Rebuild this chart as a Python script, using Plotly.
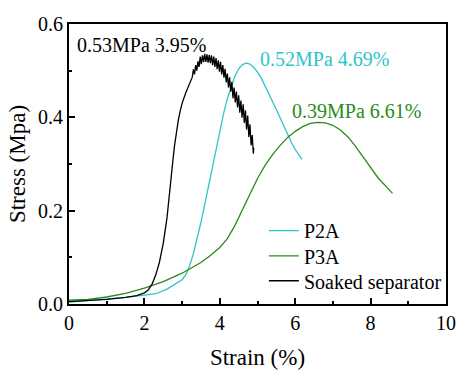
import plotly.graph_objects as go

# ---- data ----
soaked_x = [0, 0.5, 1.0, 1.5, 1.8, 2.0, 2.1, 2.2, 2.3, 2.4, 2.5, 2.6, 2.65, 2.7, 2.75, 2.8, 2.85, 2.9, 2.95, 3.0, 3.1, 3.2, 3.27,
            3.30, 3.33, 3.36, 3.39, 3.42, 3.45, 3.48, 3.51, 3.54, 3.57, 3.60, 3.63, 3.66, 3.69, 3.72, 3.75,
            3.78, 3.81, 3.84, 3.87, 3.90, 3.93, 3.96, 3.99, 4.02, 4.05, 4.08, 4.11, 4.14, 4.17, 4.20, 4.23,
            4.26, 4.29, 4.32, 4.35, 4.38, 4.41, 4.44, 4.47, 4.50, 4.53, 4.56, 4.59, 4.62, 4.65, 4.68, 4.71,
            4.74, 4.77, 4.80, 4.83, 4.86, 4.89, 4.90]
soaked_y = [0.005, 0.007, 0.010, 0.014, 0.018, 0.024, 0.030, 0.042, 0.062, 0.090, 0.130, 0.185, 0.220, 0.262, 0.303, 0.340, 0.370, 0.394, 0.414, 0.430, 0.453, 0.473, 0.486,
            0.503, 0.492, 0.512, 0.500, 0.520, 0.508, 0.530, 0.514, 0.533, 0.518, 0.536, 0.519, 0.535, 0.517, 0.534, 0.516,
            0.533, 0.512, 0.530, 0.508, 0.527, 0.503, 0.522, 0.498, 0.519, 0.492, 0.512, 0.485, 0.504, 0.475, 0.494, 0.464,
            0.486, 0.455, 0.476, 0.441, 0.464, 0.432, 0.455, 0.421, 0.447, 0.410, 0.436, 0.399, 0.428, 0.388, 0.415, 0.374,
            0.404, 0.358, 0.385, 0.340, 0.362, 0.322, 0.335]

p2a_x = [0, 0.5, 1.0, 1.5, 2.0, 2.3, 2.6, 2.8, 3.0, 3.1, 3.2, 3.3, 3.4, 3.5, 3.6, 3.7, 3.8, 3.9, 4.0, 4.1, 4.2,
         4.3, 4.4, 4.5, 4.6, 4.7, 4.8, 4.9, 5.0, 5.1, 5.2, 5.3, 5.4, 5.5, 5.6, 5.7, 5.8, 5.9, 6.0, 6.1, 6.18]
p2a_y = [0.004, 0.007, 0.010, 0.014, 0.019, 0.022, 0.032, 0.042, 0.052, 0.063, 0.082, 0.108, 0.140, 0.175, 0.213, 0.253, 0.293, 0.333, 0.372, 0.408, 0.440,
         0.466, 0.488, 0.504, 0.513, 0.516, 0.514, 0.507, 0.497, 0.484, 0.468, 0.451, 0.434, 0.417, 0.399, 0.381, 0.363, 0.346, 0.331, 0.319, 0.310]

p3a_x = [0, 0.5, 1.0, 1.5, 2.0, 2.5, 3.0, 3.25, 3.5, 3.75, 4.0, 4.2, 4.4, 4.6, 4.8, 5.0, 5.2, 5.4, 5.6, 5.8, 6.0, 6.2, 6.4,
         6.6, 6.8, 7.0, 7.2, 7.4, 7.6, 7.8, 8.0, 8.2, 8.4, 8.58]
p3a_y = [0.008, 0.010, 0.015, 0.023, 0.034, 0.048, 0.066, 0.077, 0.089, 0.104, 0.121, 0.140, 0.168, 0.202, 0.237, 0.269, 0.297, 0.320, 0.340, 0.357, 0.370, 0.380, 0.387,
         0.389, 0.388, 0.383, 0.373, 0.358, 0.338, 0.315, 0.291, 0.270, 0.253, 0.237]

labels = ["0.53MPa 3.95%", "0.52MPa 4.69%", "0.39MPa 6.61%"]
label_x = [0.15, 5.0, 5.85]
label_y = [0.556, 0.525, 0.413]

CYAN = "#2ec4cc"
GREEN = "#2a8a1a"
FONT = "Times New Roman, Liberation Serif, serif"

fig = go.Figure()
fig.add_trace(go.Scatter(x=p2a_x, y=p2a_y, mode="lines", name="P2A", legend="legend",
                         line=dict(color=CYAN, width=1.3)))
fig.add_trace(go.Scatter(x=p3a_x, y=p3a_y, mode="lines", name="P3A", legend="legend2",
                         line=dict(color=GREEN, width=1.3)))
fig.add_trace(go.Scatter(x=soaked_x, y=soaked_y, mode="lines", name="Soaked separator", legend="legend3",
                         line=dict(color="black", width=1.3)))

for t, xx, yy, c in zip(labels, label_x, label_y, ["black", CYAN, GREEN]):
    fig.add_annotation(x=xx, y=yy, text=t, showarrow=False, xanchor="left", yanchor="middle",
                       font=dict(family=FONT, size=20, color=c))

axis_common = dict(showline=True, linewidth=2, linecolor="black", mirror=True,
                   ticks="inside", ticklen=6, tickwidth=2, tickcolor="black",
                   showgrid=False, zeroline=False, automargin=False,
                   tickfont=dict(family=FONT, size=20, color="black"))

fig.update_xaxes(range=[0, 10], dtick=2, tick0=0,
                 minor=dict(ticks="inside", ticklen=3, tickwidth=2, dtick=1, tickcolor="black"),
                 title=dict(text="Strain (%)", font=dict(family=FONT, size=23, color="black"), standoff=17),
                 **axis_common)
fig.update_yaxes(range=[0, 0.6], dtick=0.2, tick0=0, tickformat=".1f",
                 minor=dict(ticks="inside", ticklen=3, tickwidth=2, dtick=0.1, tickcolor="black"),
                 title=dict(text="Stress (Mpa)", font=dict(family=FONT, size=23, color="black"), standoff=6),
                 **axis_common)

leg = dict(xanchor="left", yanchor="middle", bgcolor="rgba(0,0,0,0)", borderwidth=0,
           font=dict(family=FONT, size=20, color="black"))
fig.update_layout(
    width=458, height=370,
    margin=dict(l=69, r=12, t=24, b=66, autoexpand=False),
    paper_bgcolor="white", plot_bgcolor="white",
    showlegend=True,
    legend=dict(x=0.517, y=0.262, **leg),
    legend2=dict(x=0.517, y=0.172, **leg),
    legend3=dict(x=0.517, y=0.083, **leg),
)

fig.write_html("out.html", config={"displayModeBar": False},
               post_script="document.body.style.margin='0';document.body.style.overflow='hidden';")
